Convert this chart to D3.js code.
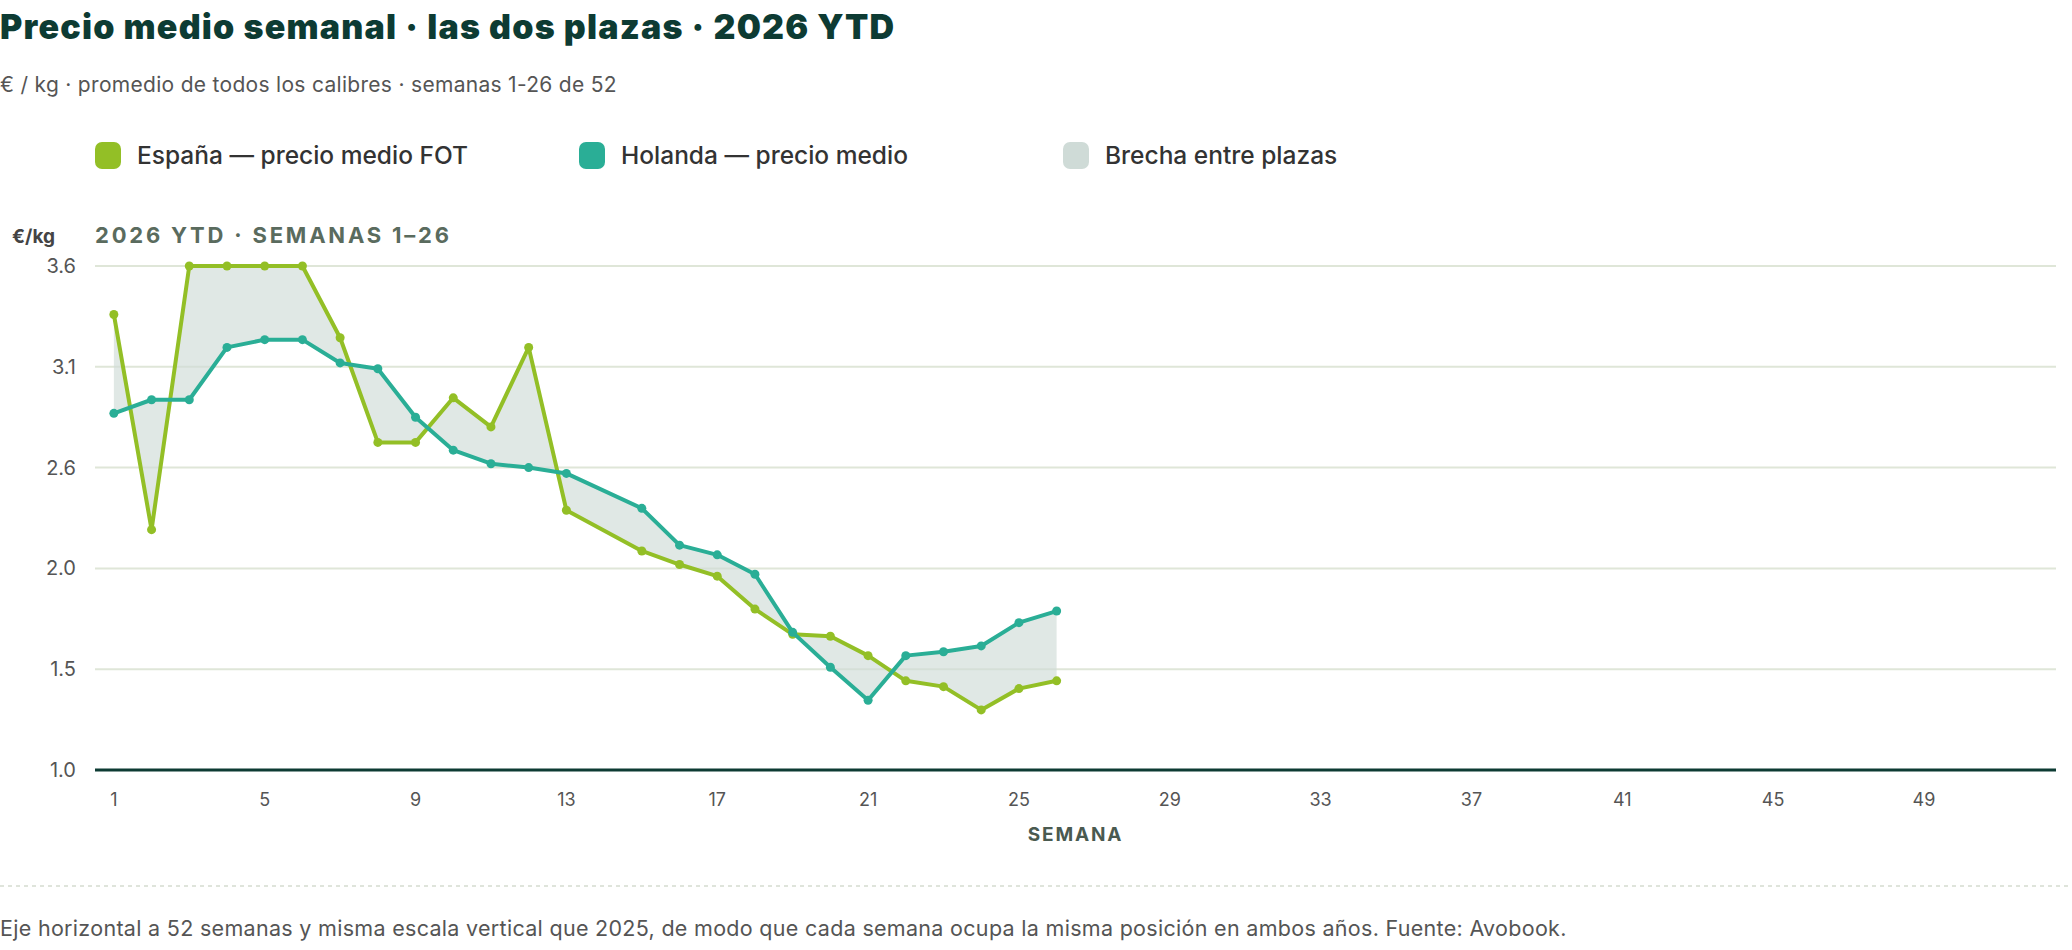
<!DOCTYPE html>
<html><head><meta charset="utf-8">
<script src="https://cdn.jsdelivr.net/npm/d3@7"></script>
<style>body{margin:0;background:#fff;font-family:Inter,"Noto Sans",sans-serif}</style>
</head><body><svg id="c" width="2072" height="950"></svg>
<script>
const weeks = [1,2,3,4,5,6,7,8,9,10,11,12,13,15,16,17,18,19,20,21,22,23,24,25,26];
const espana = [3.35,2.24,3.6,3.6,3.6,3.6,3.23,2.69,2.69,2.92,2.77,3.18,2.34,2.13,2.06,2.0,1.83,1.70,1.69,1.59,1.46,1.43,1.31,1.42,1.46];
const holanda = [2.84,2.91,2.91,3.18,3.22,3.22,3.10,3.07,2.82,2.65,2.58,2.56,2.53,2.35,2.16,2.11,2.01,1.71,1.53,1.36,1.59,1.61,1.64,1.76,1.82];
const xTicks = [1,5,9,13,17,21,25,29,33,37,41,45,49];
const yTicks = [1.0,1.52,2.04,2.56,3.08,3.6];
const legendItems = ["España — precio medio FOT","Holanda — precio medio","Brecha entre plazas"];
const colors = ["#93bf26","#2aae96","#cfdbd7"];

const svg = d3.select("#c");
const x = d3.scaleLinear().domain([0.5,52.5]).range([95,2056]);
const y = d3.scaleLinear().domain([1.0,3.6]).range([770,266]);
const data = weeks.map((w,i)=>({w,e:espana[i],h:holanda[i]}));

svg.append("text").attr("x",0).attr("y",39).attr("font-size",34).attr("font-weight",900).attr("letter-spacing",1.2)
  .attr("fill","#0d3b33").text("Precio medio semanal · las dos plazas · 2026 YTD");
svg.append("text").attr("x",0).attr("y",92).attr("font-size",21).attr("fill","#555").attr("letter-spacing",0.3)
  .text("€ / kg · promedio de todos los calibres · semanas 1-26 de 52");

const lx=[95,579,1063];
legendItems.forEach((t,i)=>{
  svg.append("rect").attr("x",lx[i]).attr("y",142).attr("width",26).attr("height",27).attr("rx",7).attr("fill",colors[i]);
  svg.append("text").attr("x",lx[i]+42).attr("y",164).attr("font-size",24.5).attr("font-weight",500).attr("fill","#333").text(t);
});

svg.append("text").attr("x",12).attr("y",243).attr("font-size",19).attr("font-weight",700).attr("fill","#444").text("€/kg");
svg.append("text").attr("x",95).attr("y",243).attr("font-size",22).attr("font-weight",700).attr("letter-spacing",2.8)
  .attr("fill","#5a6b5e").text("2026 YTD · SEMANAS 1–26");

yTicks.forEach(v=>{
  if(v>1.0) svg.append("line").attr("x1",95).attr("x2",2056).attr("y1",y(v)).attr("y2",y(v)).attr("stroke","#dfe6d8").attr("stroke-width",2);
  svg.append("text").attr("x",76).attr("y",y(v)+7).attr("text-anchor","end").attr("font-size",20).attr("fill","#555").text(v.toFixed(1));
});
svg.append("line").attr("x1",95).attr("x2",2056).attr("y1",y(1.0)).attr("y2",y(1.0)).attr("stroke","#0d3b33").attr("stroke-width",3);
xTicks.forEach(w=>{
  svg.append("text").attr("x",x(w)).attr("y",806).attr("text-anchor","middle").attr("font-size",18).attr("fill","#555").text(w);
});
svg.append("text").attr("x",x(26.5)).attr("y",841).attr("text-anchor","middle").attr("font-size",19).attr("font-weight",700)
  .attr("letter-spacing",1.8).attr("fill","#4a5a50").text("SEMANA");

svg.append("path").datum(data).attr("fill",colors[2]).attr("opacity",0.65)
  .attr("d",d3.area().x(d=>x(d.w)).y0(d=>y(d.h)).y1(d=>y(d.e)));
[["e",colors[0]],["h",colors[1]]].forEach(([k,c])=>{
  svg.append("path").datum(data).attr("fill","none").attr("stroke",c).attr("stroke-width",4).attr("stroke-linejoin","round")
    .attr("d",d3.line().x(d=>x(d.w)).y(d=>y(d[k])));
  svg.selectAll(null).data(data).enter().append("circle").attr("cx",d=>x(d.w)).attr("cy",d=>y(d[k])).attr("r",4.5).attr("fill",c);
});

svg.append("line").attr("x1",0).attr("x2",2072).attr("y1",886).attr("y2",886).attr("stroke","#d5dccf").attr("stroke-width",1.5).attr("stroke-dasharray","4,4");
svg.append("text").attr("x",0).attr("y",936).attr("font-size",21.5).attr("fill","#555").attr("letter-spacing",0.3)
  .text("Eje horizontal a 52 semanas y misma escala vertical que 2025, de modo que cada semana ocupa la misma posición en ambos años. Fuente: Avobook.");
</script></body></html>
